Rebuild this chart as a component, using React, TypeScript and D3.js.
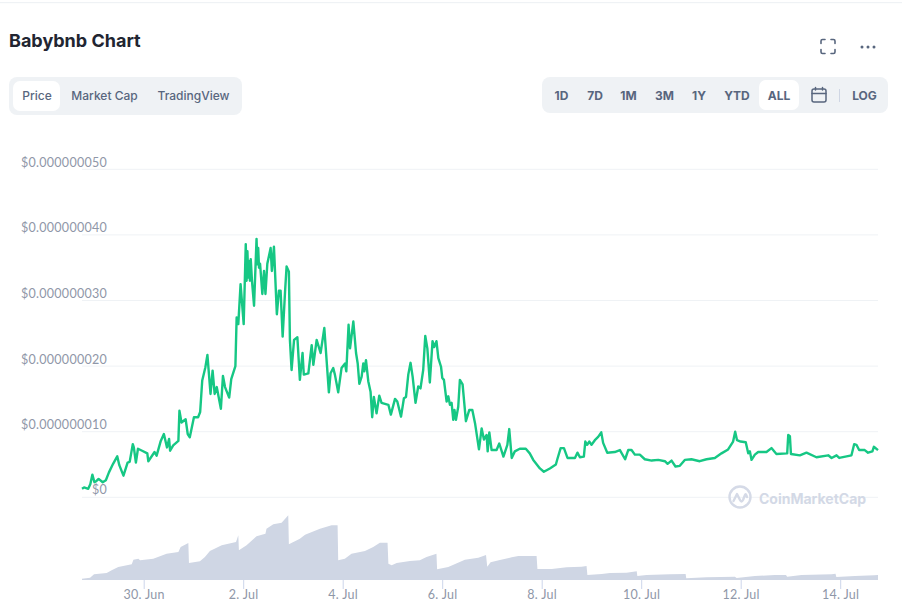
import React from "react";
import * as d3 from "d3";

const priceHours = [0,1,3,4,5,6,7,8,10,11.5,13,15,17,18,20,22,23,24.5,25,26,27,29,31.5,32,35,36,38,39.5,41,42,42.5,44,46.5,47,48,50,51,52,54,56,57,58,59.5,60.5,62,63,64,65,67,68,69,71,72,74,74.6,75.4,76.5,78,79,79.4,79.8,80.2,80.6,81,81.4,82,83,84.2,84.6,85,85.4,85.9,87,87.8,88.5,89.4,91,91.6,92.6,94,95,95.8,96.8,98,98.7,99.8,100.3,101.1,102.3,103.9,105.1,106.4,107,109.2,110.8,111.6,113.2,115.1,116.9,119.1,119.9,121.2,122,123.6,125.2,126.9,127.5,128.6,129.3,130.9,132.2,133,133.8,134.9,135.7,136.2,137,138.1,139.2,140,140.8,142.1,143.4,144.5,147.8,149,151,152.1,153.9,155.3,156.3,157.4,158.5,159.5,160.9,162.2,163.3,164.6,165.6,166.6,167.8,169.1,169.9,171,171.9,173.2,173.8,174.6,175.9,176.7,177.5,178.3,179.1,179.7,180.4,181.5,182.3,183.6,185.2,186.8,188.3,189.6,191.5,192.8,193.9,195.2,195.7,196.5,197.6,200,201.3,203.3,205.2,206.1,207.3,208.8,211.2,214.1,216,217.7,220.9,222.8,225.7,228.6,229.3,230.9,232.5,234.2,237.8,239,240.2,242.1,242.8,243.7,244.7,245.8,247.4,249,250.5,251.4,253.4,257,259.5,262,263.5,265.1,266.7,269.1,271.5,274.8,278,281.2,282.5,284.4,286.3,288.4,290.8,294,298,301.3,305.3,308.5,311.7,314.1,315.1,316,317.7,320.2,321.4,322.2,323,324.6,326.2,330.2,332.6,335,340.2,340.7,341.5,342,346.3,349.5,354.3,360,361.6,364,365.3,371.2,372.5,373.6,374.9,377.6,379.2,381.3,382,384];
const priceValues = [1.3,1.5,1.3,2,3.45,2.3,2.5,2.8,2.3,2.6,3.8,5.1,6.25,4.9,3.3,5.3,5.4,8.1,7.6,5.3,7.4,7.1,6.7,5.5,6.9,6.35,8.6,9.65,7.6,8.9,7.1,7.9,8.6,13.2,11.4,11.9,9.65,9.15,12.2,12.2,13,17.8,19.8,21.7,15.75,19.3,15.75,16.8,13.5,18.5,16.8,15.2,18,20,27.4,26.4,32.5,26.4,38.6,33,37.5,33.5,36,33,36.3,33,29.2,39.4,35.5,38,35,35.6,31,34.5,31,35.6,38,34.5,38.2,27.9,31.5,31.5,24.5,31.6,35.2,34.4,24,19.4,24,24.4,17.9,22,18.7,18.9,23.2,20.2,24,22,25.8,16,18.9,19.7,18.7,16,19.7,20.4,19.2,26.3,22.7,26.8,22,20.4,17.3,18.4,20.4,19.2,20.9,17.7,16.1,12.2,15.3,12.8,15.5,14.4,14.1,12.6,15,14.6,12.3,15.1,15.3,18.7,20.5,18.4,14.4,16.9,16.6,19.4,24.6,22.7,17.5,23.8,22.9,23.8,21.2,19.9,18.2,17.9,14.6,15.4,14.1,14.4,11.8,13.3,11.8,13.8,17.9,17.2,11.6,13.3,13.3,11.3,7.3,10.5,8.8,9.5,7,9.9,7.2,7.2,8.2,6.2,8,10.4,6,7,7.4,7.4,6.7,5.7,4.4,3.9,4.4,5,5.8,7.5,7.5,6,6,6.8,6.1,6.2,8.5,8,8.5,8,8.7,9.2,9.9,8.3,6.8,6.9,7.2,5.8,7.2,7.2,6.5,6.5,5.8,5.6,5.7,5.5,5.1,5.6,4.7,4.8,5.7,5.8,5.5,5.8,6,6.7,7.3,8.5,10,8.7,8.5,8.4,6.7,7,5.7,6.5,6.9,6.9,7.5,6.6,6.7,9.5,9.3,6.6,6.4,6.8,6.1,6.4,6,6.4,6,6.4,8.1,8,7.2,7.2,6.8,7,7.7,7.2];

const volumeHours = [0,3.9,5.8,11.9,14.3,17.5,24,24.8,27.2,28,34.4,40.8,46.5,47.6,51.3,51.6,56.9,59.3,61.7,67.4,74.3,75.4,75.7,79.4,84.2,88.5,89,92.3,96.3,99.5,99.8,105.1,107.6,114.8,120.4,123.3,123.6,126.8,130,136.5,140.5,143.7,147.4,147.8,149.4,151.8,158.2,163,166.2,171,171.3,176.7,184.7,191.2,194.9,195.5,197.1,201.6,207.3,210.5,219.3,219.7,226.6,233.8,241,243.4,243.8,250.7,254.7,262.7,267.6,267.9,272.4,283.6,291.2,291.5,301.3,315,315.8,324.6,334.3,339.6,340.2,347.1,361.6,363.5,363.9,372.9,382.2,384];
const volumeValues = [1.3,2.3,5.7,7,9.7,13,15.7,20.3,21.3,19.7,21.3,26.3,28,33,37,17,18.7,23,29,34.7,38,44.7,29.7,34.7,43.7,46.3,51.3,55.7,57.3,64.7,35.7,41.3,45.3,51.3,54.7,54.7,19.7,21.3,26.3,29,33,37.3,37.3,16.3,14.7,17,19,19.7,23,26.3,10.7,13,20.3,22.3,25,13.3,17.7,20,22.7,24,24,11,11,12.7,13.3,14,5,6,7,7.3,8.7,4,5,5.7,6,1.7,2.7,3.3,2,4,5,5,3.3,5,5.7,6.3,3,4,4.7,5];

const yTickValues = [0,10,20,30,40,50];
const yTickLabels = ["$0","$0.000000010","$0.000000020","$0.000000030","$0.000000040","$0.000000050"];
const xTickHours = [30,78,126,174,222,270,318,366];
const xTickLabels = ["30. Jun","2. Jul","4. Jul","6. Jul","8. Jul","10. Jul","12. Jul","14. Jul"];
const chartTabs = ["Price","Market Cap","TradingView"];
const rangeTabs = ["1D","7D","1M","3M","1Y","YTD","ALL"];

const FONT = "Inter, 'Noto Sans', sans-serif";
const x = d3.scaleLinear().domain([0, 384]).range([82, 878]);
const y = d3.scaleLinear().domain([0, 50]).range([497.3, 169.3]);
const yVol = d3.scaleLinear().domain([0, 65]).range([580, 515]);

const priceLine = d3.line<number>()
  .x((_, i) => x(priceHours[i]))
  .y((d) => y(d))
  .curve(d3.curveLinear);
const volumeArea = d3.area<number>()
  .x((_, i) => x(volumeHours[i]))
  .y0(yVol(0))
  .y1((d) => yVol(d))
  .curve(d3.curveLinear);

const tabCenters = [37, 104.5, 193.5];
const rangeCenters = [561.5, 595, 628.5, 664.5, 699, 737, 779];

export default function App() {
  return (
    <svg width={902} height={614} style={{ position: "absolute", left: 0, top: 0, background: "#fff" }} fontFamily={FONT}>
      <rect x={0} y={2} width={902} height={1.2} fill="#eff2f5" />
      <text x={9} y={47} fontSize={18} fontWeight={700} fill="#222531">Babybnb Chart</text>

      <g fill="none" stroke="#58667e" strokeWidth={1.6} strokeLinecap="round">
        <path d="M821 44 v-2.5 q0 -1.5 1.5 -1.5 h2.5 M831 40 h2.5 q1.5 0 1.5 1.5 v2.5 M835 50 v2.5 q0 1.5 -1.5 1.5 h-2.5 M825 54 h-2.5 q-1.5 0 -1.5 -1.5 v-2.5" transform="translate(0,-0.5)" />
      </g>
      <g fill="#58667e">
        <circle cx={862} cy={47} r={1.5} />
        <circle cx={868} cy={47} r={1.5} />
        <circle cx={874} cy={47} r={1.5} />
      </g>

      <rect x={9} y={77} width={233} height={38} rx={8} fill="#eff2f5" />
      <rect x={13} y={81} width={47} height={30} rx={7} fill="#fff" />
      {chartTabs.map((t, i) => (
        <text key={t} x={tabCenters[i]} y={100} textAnchor="middle" fontSize={12} fontWeight={500} fill="#58667e">{t}</text>
      ))}

      <rect x={542} y={77} width={346} height={36} rx={8} fill="#eff2f5" />
      <rect x={759} y={80} width={40} height={30} rx={7} fill="#fff" />
      {rangeTabs.map((t, i) => (
        <text key={t} x={rangeCenters[i]} y={100} textAnchor="middle" fontSize={12} fontWeight={700} fill="#58667e">{t}</text>
      ))}
      <g fill="none" stroke="#58667e" strokeWidth={1.5} strokeLinecap="round">
        <rect x={812} y={89} width={14} height={13} rx={2} />
        <path d="M812 93.5 h14 M815.5 87.5 v2.5 M822.5 87.5 v2.5" />
      </g>
      <rect x={839} y={89} width={1} height={13} fill="#cfd6e4" />
      <text x={864.5} y={100} textAnchor="middle" fontSize={12} fontWeight={700} fill="#58667e">LOG</text>

      {yTickValues.map((v, i) => (
        <g key={v}>
          <rect x={82} y={y(v) - 0.5} width={796} height={1} fill="#eff2f5" />
          <text x={107} y={v === 0 ? 494 : y(v) - 2.5} textAnchor="end" fontSize={12.5} fill="#8f97a8" fontFamily="Lato, sans-serif" letterSpacing={0.27}>{yTickLabels[i]}</text>
        </g>
      ))}

      <g transform="translate(728,485)" opacity={0.95}>
        <circle cx={12} cy={12} r={10.5} fill="none" stroke="#d3d9e6" strokeWidth={2.4} />
        <path d="M5.5 16 L9 9 L12 15 Q13.5 18 15 15 L17 10 Q18 8 19 12" fill="none" stroke="#d3d9e6" strokeWidth={2.4} strokeLinecap="round" strokeLinejoin="round" />
      </g>
      <text x={759} y={503.5} fontSize={14} fontWeight={700} fill="#d3d9e6">CoinMarketCap</text>

      <path d={volumeArea(volumeValues) ?? ""} fill="#cfd6e4" />
      <path d={priceLine(priceValues) ?? ""} fill="none" stroke="#16c784" strokeWidth={2.4} strokeLinejoin="round" />

      {xTickHours.map((h, i) => (
        <g key={h}>
          <rect x={x(h) - 0.5} y={580} width={1} height={9} fill="#ccd6eb" />
          <text x={x(h)} y={599} textAnchor="middle" fontSize={12.5} fill="#8f97a8" fontFamily="Lato, sans-serif" letterSpacing={0.27}>{xTickLabels[i]}</text>
        </g>
      ))}
    </svg>
  );
}
